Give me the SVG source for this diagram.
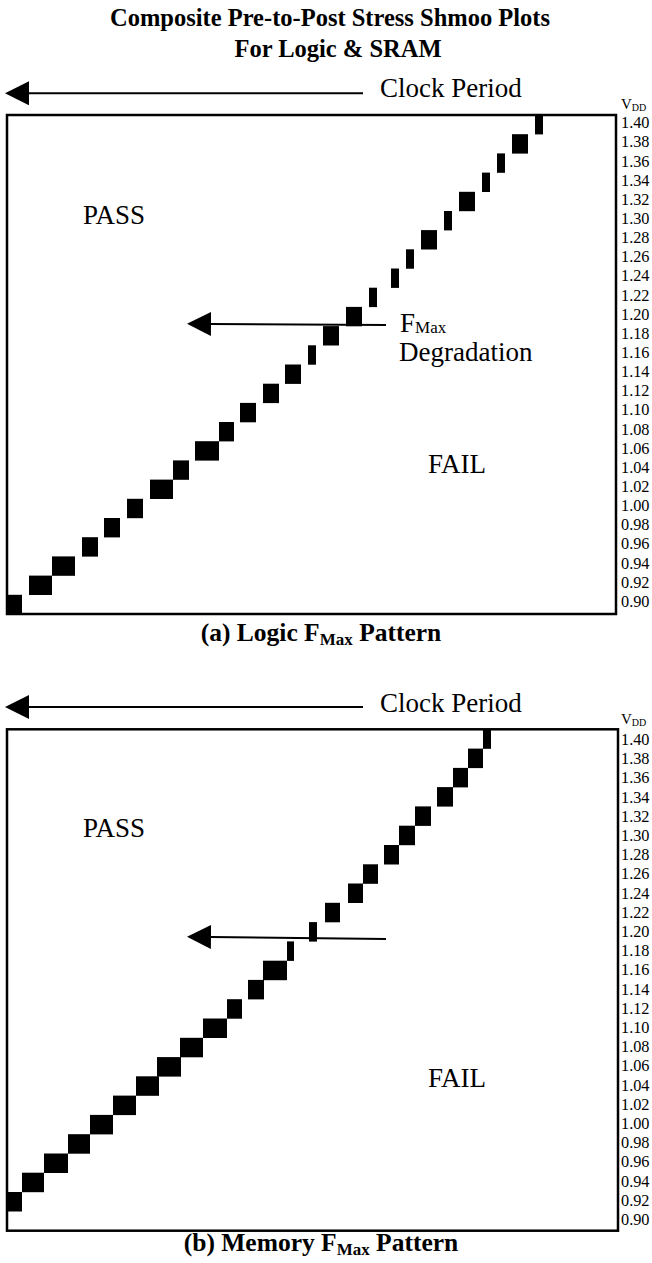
<svg xmlns="http://www.w3.org/2000/svg" width="652" height="1263" viewBox="0 0 652 1263">
<style>
text{font-family:"Liberation Serif","Times New Roman",serif;fill:#000}
.title{font-size:24.5px;font-weight:bold;text-anchor:middle}
.cap{font-size:25.5px;font-weight:bold;text-anchor:middle}
.big{font-size:27px}
.tick{font-size:16.3px}
.vdd{font-size:15px}
.frame{fill:none;stroke:#000;stroke-width:2.5}
.blk rect{fill:#000}
.arr{stroke:#000;stroke-width:2;fill:none;marker-end:url(#ah)}
</style>
<defs>
<marker id="ah" markerUnits="userSpaceOnUse" markerWidth="24" markerHeight="24" viewBox="0 -11 22 22" refX="0" refY="0" orient="auto">
<path d="M0,-11 L22,0 L0,11 Z" fill="#000"/>
</marker>
</defs>
<rect width="652" height="1263" fill="#fff"/>

<g id="title">
<text class="title" x="330" y="26">Composite Pre-to-Post Stress Shmoo Plots</text>
<text class="title" x="338" y="57">For Logic &amp; SRAM</text>
</g>

<g id="plot-a">
<rect class="frame" x="7" y="115" width="609" height="499"/>
<text class="big" x="380" y="97">Clock Period</text>
<text class="big" x="83" y="224">PASS</text>
<text class="big" x="428" y="473">FAIL</text>
<text class="big" x="400" y="332">F<tspan font-size="17" dy="1">Max</tspan></text>
<text class="big" x="399" y="361">Degradation</text>
<text class="vdd" x="621" y="109">V<tspan font-size="10" dy="2">DD</tspan></text>
<g class="blk">
<rect x="535" y="115" width="8" height="19.4"/>
<rect x="512" y="134.2" width="16" height="19.4"/>
<rect x="497" y="153.4" width="8" height="19.4"/>
<rect x="482" y="172.6" width="8" height="19.4"/>
<rect x="459" y="191.8" width="16" height="19.4"/>
<rect x="444" y="211" width="8" height="19.4"/>
<rect x="421" y="230.1" width="16" height="19.4"/>
<rect x="406" y="249.3" width="8" height="19.4"/>
<rect x="391" y="268.5" width="8" height="19.4"/>
<rect x="369" y="287.7" width="8" height="19.4"/>
<rect x="346" y="306.9" width="16" height="19.4"/>
<rect x="323" y="326.1" width="16" height="19.4"/>
<rect x="308" y="345.3" width="8" height="19.4"/>
<rect x="285" y="364.5" width="16" height="19.4"/>
<rect x="263" y="383.7" width="16" height="19.4"/>
<rect x="240" y="402.9" width="16" height="19.4"/>
<rect x="219" y="422" width="15" height="19.4"/>
<rect x="195" y="441.2" width="24" height="19.4"/>
<rect x="173" y="460.4" width="16" height="19.4"/>
<rect x="150" y="479.6" width="23" height="19.4"/>
<rect x="127" y="498.8" width="16" height="19.4"/>
<rect x="104" y="518" width="16" height="19.4"/>
<rect x="82" y="537.2" width="16" height="19.4"/>
<rect x="52" y="556.4" width="23" height="19.4"/>
<rect x="29" y="575.6" width="23" height="19.4"/>
<rect x="7" y="594.8" width="15" height="19.2"/>
</g>
<g class="tick">
<text x="621" y="128.3">1.40</text>
<text x="621" y="147.4">1.38</text>
<text x="621" y="166.6">1.36</text>
<text x="621" y="185.7">1.34</text>
<text x="621" y="204.9">1.32</text>
<text x="621" y="224">1.30</text>
<text x="621" y="243.1">1.28</text>
<text x="621" y="262.3">1.26</text>
<text x="621" y="281.4">1.24</text>
<text x="621" y="300.6">1.22</text>
<text x="621" y="319.7">1.20</text>
<text x="621" y="338.8">1.18</text>
<text x="621" y="358">1.16</text>
<text x="621" y="377.1">1.14</text>
<text x="621" y="396.3">1.12</text>
<text x="621" y="415.4">1.10</text>
<text x="621" y="434.5">1.08</text>
<text x="621" y="453.7">1.06</text>
<text x="621" y="472.8">1.04</text>
<text x="621" y="492">1.02</text>
<text x="621" y="511.1">1.00</text>
<text x="621" y="530.2">0.98</text>
<text x="621" y="549.4">0.96</text>
<text x="621" y="568.5">0.94</text>
<text x="621" y="587.7">0.92</text>
<text x="621" y="606.8">0.90</text>
</g>
<text class="cap" x="321" y="641">(a) Logic F<tspan font-size="17" dy="4">Max</tspan><tspan dy="-4"> Pattern</tspan></text>
</g>

<g id="plot-b">
<rect class="frame" x="7" y="729.3" width="611" height="501.4"/>
<text class="big" x="380" y="712">Clock Period</text>
<text class="big" x="83" y="837">PASS</text>
<text class="big" x="428" y="1087">FAIL</text>
<text class="vdd" x="621" y="724">V<tspan font-size="10" dy="2">DD</tspan></text>
<g class="blk">
<rect x="483" y="729.3" width="8" height="19.5"/>
<rect x="468" y="748.6" width="15" height="19.5"/>
<rect x="453" y="767.9" width="15" height="19.5"/>
<rect x="437" y="787.1" width="16" height="19.5"/>
<rect x="415" y="806.4" width="16" height="19.5"/>
<rect x="399" y="825.7" width="16" height="19.5"/>
<rect x="384" y="845" width="15" height="19.5"/>
<rect x="363" y="864.3" width="15" height="19.5"/>
<rect x="348" y="883.5" width="15" height="19.5"/>
<rect x="325" y="902.8" width="15" height="19.5"/>
<rect x="309" y="922.1" width="8" height="19.5"/>
<rect x="287" y="941.4" width="7" height="19.5"/>
<rect x="263" y="960.7" width="24" height="19.5"/>
<rect x="248" y="979.9" width="16" height="19.5"/>
<rect x="227" y="999.2" width="15" height="19.5"/>
<rect x="203" y="1018.5" width="24" height="19.5"/>
<rect x="180" y="1037.8" width="23" height="19.5"/>
<rect x="157" y="1057.1" width="24" height="19.5"/>
<rect x="136" y="1076.3" width="23" height="19.5"/>
<rect x="113" y="1095.6" width="23" height="19.5"/>
<rect x="90" y="1114.9" width="23" height="19.5"/>
<rect x="68" y="1134.2" width="22" height="19.5"/>
<rect x="44" y="1153.5" width="24" height="19.5"/>
<rect x="22" y="1172.7" width="22" height="19.5"/>
<rect x="7" y="1192" width="15" height="19.5"/>
</g>
<g class="tick">
<text x="621" y="745">1.40</text>
<text x="621" y="764.2">1.38</text>
<text x="621" y="783.4">1.36</text>
<text x="621" y="802.6">1.34</text>
<text x="621" y="821.8">1.32</text>
<text x="621" y="841">1.30</text>
<text x="621" y="860.2">1.28</text>
<text x="621" y="879.4">1.26</text>
<text x="621" y="898.6">1.24</text>
<text x="621" y="917.8">1.22</text>
<text x="621" y="937">1.20</text>
<text x="621" y="956.2">1.18</text>
<text x="621" y="975.4">1.16</text>
<text x="621" y="994.6">1.14</text>
<text x="621" y="1013.8">1.12</text>
<text x="621" y="1033">1.10</text>
<text x="621" y="1052.2">1.08</text>
<text x="621" y="1071.4">1.06</text>
<text x="621" y="1090.6">1.04</text>
<text x="621" y="1109.8">1.02</text>
<text x="621" y="1129">1.00</text>
<text x="621" y="1148.2">0.98</text>
<text x="621" y="1167.4">0.96</text>
<text x="621" y="1186.6">0.94</text>
<text x="621" y="1205.8">0.92</text>
<text x="621" y="1225">0.90</text>
</g>
<text class="cap" x="321" y="1251">(b) Memory F<tspan font-size="17" dy="4">Max</tspan><tspan dy="-4"> Pattern</tspan></text>
</g>

<g id="connectors">
<path class="arr" d="M363,93.3 L29,93.3"/>
<path class="arr" d="M386,325 L211,324"/>
<path class="arr" d="M363,707 L29,707"/>
<path class="arr" d="M386,939 L211,937"/>
</g>
</svg>
